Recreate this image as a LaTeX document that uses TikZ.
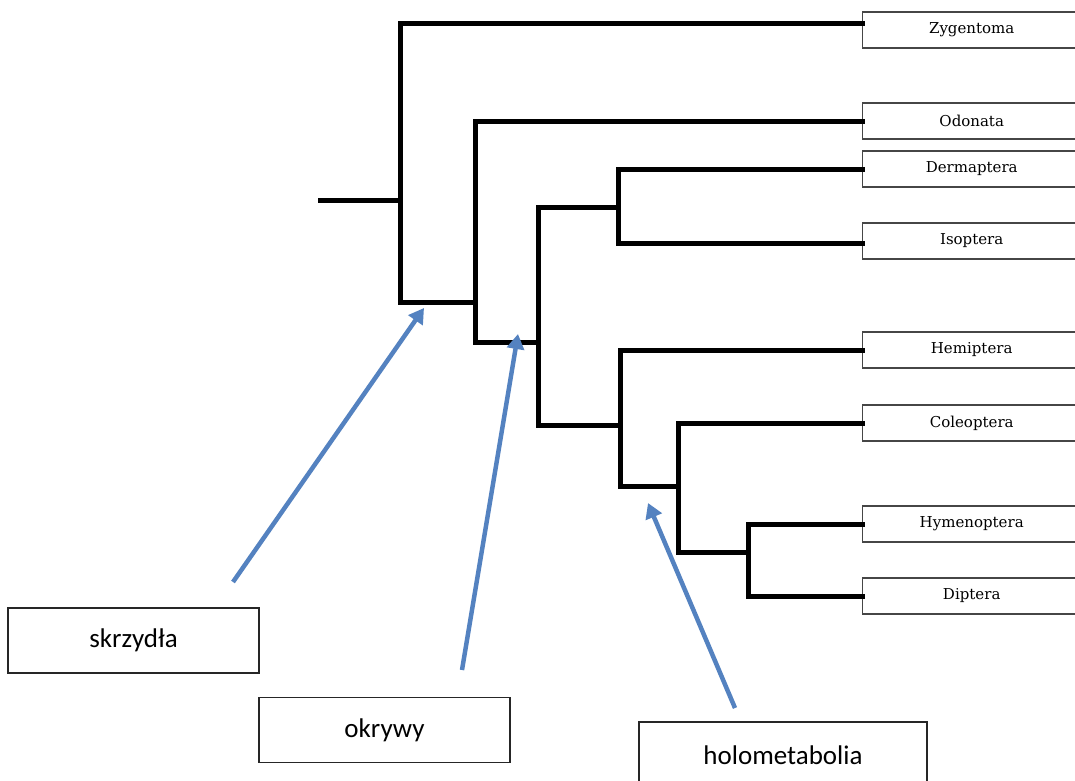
\documentclass[tikz,border=0pt]{standalone}
\usepackage{fontspec}
\setmainfont{Carlito}
\newfontfamily\taxfont{DejaVu Serif}
\usetikzlibrary{arrows.meta}
\definecolor{arrblue}{RGB}{84,130,192}
\definecolor{boxgray}{RGB}{70,70,70}
\begin{document}
\begin{tikzpicture}[x=1pt,y=-1pt,
  br/.style={line width=5pt,black,line cap=rect,line join=miter},
  taxon/.style={draw=boxgray,line width=1.4pt,minimum width=218pt,minimum height=36pt,anchor=west,inner sep=0pt,font=\taxfont\fontsize{15}{17}\selectfont},
  lab/.style={draw=black!85,line width=1.4pt,minimum width=251pt,minimum height=65pt,inner sep=0pt,font=\fontsize{27}{31}\selectfont},
  marker/.style={arrblue,line width=4.5pt,-{Triangle[length=15pt,width=17pt]}}]
\useasboundingbox (0,0) rectangle (1075,780);
\clip (0,0) rectangle (1075,780);
% taxon boxes
\node[taxon] (zyg) at (862,30) {Zygentoma};
\node[taxon] (odo) at (862,121) {Odonata};
\node[taxon] (der) at (862,169) {Dermaptera};
\node[taxon] (iso) at (862,241) {Isoptera};
\node[taxon] (hem) at (862,350) {Hemiptera};
\node[taxon] (col) at (862,423) {Coleoptera};
\node[taxon] (hym) at (862,524) {Hymenoptera};
\node[taxon] (dip) at (862,596) {Diptera};
% internal coordinates
\coordinate (r) at (320,200);
\coordinate (aj) at (400,200);
\coordinate (ab) at (400,302);
\coordinate (bj) at (475,302);
\coordinate (bb) at (475,342);
\coordinate (cj) at (538,342);
\coordinate (ct) at (538,207);
\coordinate (dj) at (618,207);
\coordinate (cb) at (538,425);
\coordinate (ej) at (620,425);
\coordinate (eb) at (620,486);
\coordinate (fj) at (678,486);
\coordinate (fb) at (678,552);
\coordinate (gj) at (748,552);
% tree
\draw[br] (r) -- (aj);
\draw[br] ([yshift=7pt]zyg.west) -| (ab) -- (bj);
\draw[br] (odo.west) -| (bb) -- (cj);
\draw[br] (der.west) -| (dj) |- ([yshift=-2pt]iso.west);
\draw[br] (dj) -- (ct) -- (cb) -- (ej);
\draw[br] (hem.west) -| (eb) -- (fj);
\draw[br] (col.west) -| (fb) -- (gj);
\draw[br] (hym.west) -| (gj) |- (dip.west);
% label boxes
\node[lab] (skr) at (133.5,640.5) {skrzydła};
\node[lab] (okr) at (384.5,730) {okrywy};
\node[lab,minimum width=288pt,minimum height=66pt] (hol) at (783,755) {holometabolia};
% arrows
\coordinate (t1) at (233,582); \coordinate (h1) at (424,308);
\coordinate (t2) at (462,670); \coordinate (h2) at (518,334);
\coordinate (t3) at (735,708); \coordinate (h3) at (648,503);
\draw[marker] (t1) -- (h1);
\draw[marker] (t2) -- (h2);
\draw[marker] (t3) -- (h3);
\end{tikzpicture}
\end{document}
